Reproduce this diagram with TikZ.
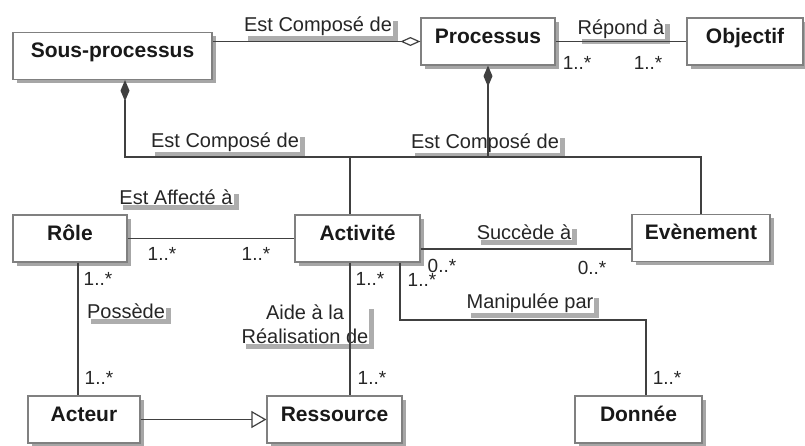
\documentclass[tikz,border=0pt]{standalone}
\usepackage{fontspec}
\setmainfont{Liberation Sans}
\usetikzlibrary{arrows.meta,shadows}

\begin{document}
\begin{tikzpicture}[x=1pt,y=-1pt,
  classe/.style={draw=black!50, line width=1.2pt, fill=white, text=black!90,
    font=\fontsize{21}{24}\selectfont\bfseries, minimum height=47pt, inner sep=0pt,
    text height=15pt, text depth=12pt,
    drop shadow={shadow xshift=3.5pt, shadow yshift=-3.5pt, fill=black!35, opacity=1}},
  lbl/.style={fill=white, inner sep=1pt, text=black!85, font=\fontsize{20}{24}\selectfont,
    drop shadow={shadow xshift=5pt, shadow yshift=-5pt, fill=black!32, opacity=1}},
  mult/.style={inner sep=0pt, text=black!85, font=\fontsize{19}{22}\selectfont},
  lien/.style={draw=black!75, line width=1.2pt},
  compo/.style={lien, {Diamond[length=21pt,width=9pt]}-},
  agreg/.style={lien, -{Diamond[open,length=20pt,width=9pt]}},
  herit/.style={lien, -{Triangle[open,length=15pt,width=17pt]}}
]
  \useasboundingbox[fill=white] (0,0) rectangle (805,445);

  % classes
  \node[classe, minimum width=199pt] (sousproc) at (112.5,56) {Sous-processus};
  \node[classe, minimum width=134pt] (processus) at (488,41.5) {Processus};
  \node[classe, minimum width=116pt] (objectif) at (745,41.5) {Objectif};
  \node[classe, minimum width=114pt] (role) at (70,238.5) {Rôle};
  \node[classe, minimum width=125pt] (activite) at (357.5,238.5) {Activité};
  \node[classe, minimum width=138pt] (evenement) at (701,238) {Evènement};
  \node[classe, minimum width=112pt] (acteur) at (84,419.5) {Acteur};
  \node[classe, minimum width=135pt] (ressource) at (334.5,419.5) {Ressource};
  \node[classe, minimum width=127pt] (donnee) at (638.5,419.5) {Donnée};

  % noms des associations
  \node[lbl] (lcompose1) at (318,26) {Est Composé de};
  \node[lbl] (lrepond) at (621,29) {Répond à};
  \node[lbl] (lcompose2) at (225,142) {Est Composé de};
  \node[lbl] (lcompose3) at (485,143) {Est Composé de};
  \node[lbl] (laffecte) at (176,197) {Est Affecté à};
  \node[lbl] (lsuccede) at (524,232) {Succède à};
  \node[lbl] (lpossede) at (126,311) {Possède};
  \node[lbl, align=center] (laide) at (305,324) {Aide à la\\Réalisation de};
  \node[lbl] (lmanip) at (530,303) {Manipulée par};

  % multiplicites
  \node[mult] (mproc) at (577,63) {1..*};
  \node[mult] (mobj) at (648,63) {1..*};
  \node[mult] (mrole) at (162,254) {1..*};
  \node[mult] (mact) at (256,254) {1..*};
  \node[mult] (msucc1) at (442,266) {0..*};
  \node[mult] (msucc2) at (592,268) {0..*};
  \node[mult] (mdon1) at (422,280) {1..*};
  \node[mult] (mposs1) at (98,279) {1..*};
  \node[mult] (mposs2) at (99,378) {1..*};
  \node[mult] (maide1) at (370,279) {1..*};
  \node[mult] (maide2) at (372,378) {1..*};
  \node[mult] (mdon2) at (667,378) {1..*};

  % points d'accroche
  \coordinate (bus) at (0,157);
  \coordinate (manip) at (0,320);
  \coordinate (spB) at ([xshift=12.5pt]sousproc.south);
  \coordinate (actH) at ([xshift=-7.5pt]activite.north);
  \coordinate (actB) at ([xshift=-7.5pt]activite.south);
  \coordinate (actD) at ([xshift=42.5pt]activite.south);
  \coordinate (actE) at ([yshift=-10.5pt]activite.east);
  \coordinate (roleB) at ([xshift=8pt]role.south);
  \coordinate (donH) at ([xshift=7.5pt]donnee.north);

  % liens
  \draw[agreg] (sousproc.east |- processus.west) -- (processus.west);
  \draw[lien] (processus.east) -- (objectif.west);
  \draw[compo] (spB) |- (actH |- bus) -- (actH);
  \draw[compo] (processus.south) |- (actH |- bus);
  \draw[lien] (processus.south |- bus) -| (evenement.north);
  \draw[lien] (role.east) -- (activite.west);
  \draw[lien] (actE) -- (actE -| evenement.west);
  \draw[lien] (roleB) -- (roleB |- acteur.north);
  \draw[lien] (actB) -- (actB |- ressource.north);
  \draw[lien] (actD) |- (donH |- manip) -- (donH);
  \draw[herit] (acteur.east) -- (ressource.west);
\end{tikzpicture}
\end{document}
